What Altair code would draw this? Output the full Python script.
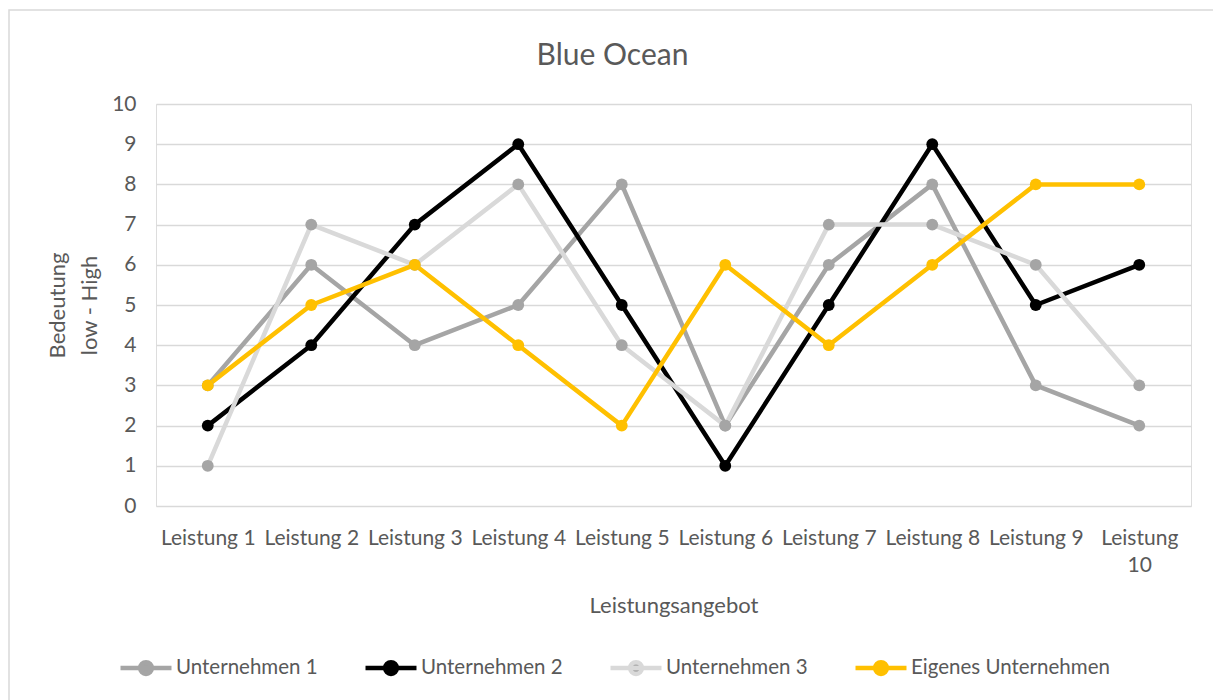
import altair as alt
import pandas as pd

# Offerings on the x axis
categories = [f"Leistung {i}" for i in range(1, 11)]

# Importance ratings (0 = low, 10 = high) per company
series_names = ["Unternehmen 1", "Unternehmen 2", "Unternehmen 3", "Eigenes Unternehmen"]
unternehmen_1 = [3, 6, 4, 5, 8, 2, 6, 8, 3, 2]
unternehmen_2 = [2, 4, 7, 9, 5, 1, 5, 9, 5, 6]
unternehmen_3 = [1, 7, 6, 8, 4, 2, 7, 7, 6, 3]
eigenes = [3, 5, 6, 4, 2, 6, 4, 6, 8, 8]

line_colors = ["#A5A5A5", "#000000", "#D9D9D9", "#FFC000"]
marker_colors = ["#A5A5A5", "#000000", "#A5A5A5", "#FFC000"]

rows = []
for name, values in zip(series_names, [unternehmen_1, unternehmen_2, unternehmen_3, eigenes]):
    for cat, v in zip(categories, values):
        rows.append({"Leistung": cat, "Wert": v, "Serie": name})
df = pd.DataFrame(rows)

W, H = 1035, 402
FONT = "Lato"
TEXT = "#595959"
GRID = "#D9D9D9"

# legend symbol: a short stroke with a dot in the middle
legend_symbol = "M-1,0L1,0M0.23,0A0.23,0.23,0,1,1,-0.23,0A0.23,0.23,0,1,1,0.23,0Z"

legend = alt.Legend(
    title=None,
    orient="none",
    direction="horizontal",
    columns=4,
    legendX=-38,
    legendY=536,
    symbolType=legend_symbol,
    symbolSize=2600,
    symbolStrokeWidth=4.5,
    labelFont=FONT,
    labelFontSize=20.5,
    labelColor=TEXT,
    labelOffset=2,
    columnPadding=38,
    labelLimit=400,
)

x_enc = alt.X(
    "Leistung:N",
    sort=categories,
    scale=alt.Scale(type="point", padding=0.5),
    axis=alt.Axis(
        title="Leistungsangebot",
        labelAngle=0,
        labelExpr="length(datum.label) > 10 ? split(datum.label, ' ') : datum.label",
        labelFont=FONT,
        labelFontSize=21,
        labelColor=TEXT,
        labelPadding=21,
        labelLineHeight=27,
        titleFont=FONT,
        titleFontSize=22,
        titleFontWeight="normal",
        titleColor=TEXT,
        titlePadding=20,
        domain=False,
        ticks=False,
        grid=False,
    ),
)

y_enc = alt.Y(
    "Wert:Q",
    scale=alt.Scale(domain=[0, 10], nice=False),
    axis=alt.Axis(
        title=["Bedeutung", "low - High"],
        values=list(range(0, 11)),
        labelFont=FONT,
        labelFontSize=21,
        labelColor=TEXT,
        labelPadding=20,
        titleFont=FONT,
        titleFontSize=22,
        titleFontWeight="normal",
        titleColor=TEXT,
        titleLineHeight=32,
        titlePadding=10,
        domain=False,
        ticks=False,
        grid=True,
        gridColor=GRID,
        gridWidth=1.5,
    ),
)

base = alt.Chart(df)

lines = base.mark_line(strokeWidth=4.5, strokeJoin="round", strokeCap="round").encode(
    x=x_enc,
    y=y_enc,
    stroke=alt.Stroke("Serie:N", sort=series_names,
                      scale=alt.Scale(domain=series_names, range=line_colors), legend=legend),
)

points = base.mark_point(filled=True, shape="circle", size=140, opacity=1).encode(
    x=x_enc,
    y=y_enc,
    fill=alt.Fill("Serie:N", sort=series_names,
                  scale=alt.Scale(domain=series_names, range=marker_colors), legend=legend),
)

# light frame around the whole figure
frame = alt.Chart(pd.DataFrame({"f": [0]})).mark_rect(
    fill="transparent", stroke=GRID, strokeWidth=1.5
).encode(
    x=alt.value(-147), x2=alt.value(W + 80),
    y=alt.value(-94), y2=alt.value(H + 260),
)

chart = alt.layer(frame, lines, points).properties(
    width=W,
    height=H,
    title=alt.TitleParams(
        text="Blue Ocean",
        font=FONT,
        fontSize=30,
        fontWeight="normal",
        color=TEXT,
        anchor="middle",
        dx=-61,
        offset=-62,
    ),
    autosize=alt.AutoSizeParams(type="none"),
    padding={"left": 156, "top": 104, "right": 22, "bottom": 194},
).configure_view(stroke=None).configure(background="white")

chart.save("out.html", embed_options={"renderer": "svg", "actions": False})
